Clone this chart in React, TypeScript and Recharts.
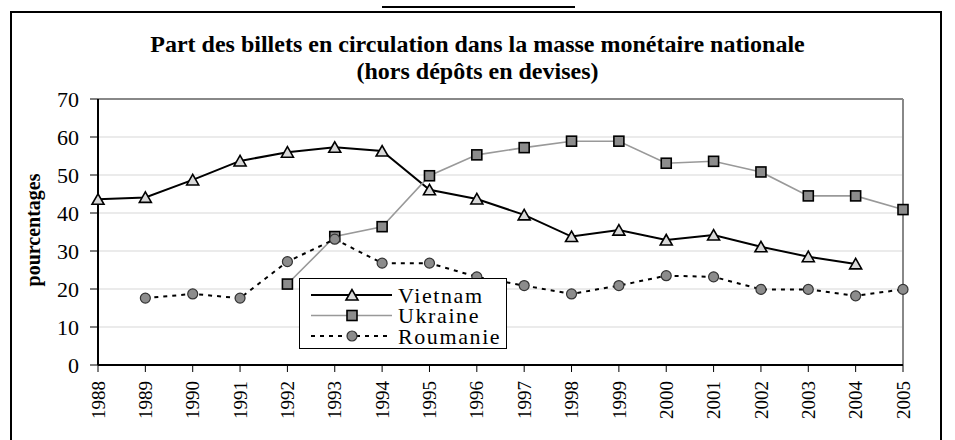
import React from 'react';
import { LineChart, Line, XAxis, YAxis, CartesianGrid, ReferenceLine } from 'recharts';

const years = ['1988', '1989', '1990', '1991', '1992', '1993', '1994', '1995', '1996', '1997', '1998', '1999', '2000', '2001', '2002', '2003', '2004', '2005'];
const vietnam = [43.6, 44.1, 48.7, 53.7, 56.0, 57.3, 56.3, 46.1, 43.7, 39.5, 33.8, 35.5, 32.9, 34.2, 31.1, 28.5, 26.6, null];
const ukraine = [null, null, null, null, 21.3, 33.8, 36.4, 49.8, 55.3, 57.2, 58.9, 58.9, 53.1, 53.6, 50.8, 44.5, 44.5, 40.9];
const roumanie = [null, 17.6, 18.7, 17.6, 27.2, 33.1, 26.8, 26.8, 23.2, 20.9, 18.7, 20.9, 23.5, 23.2, 19.9, 19.9, 18.2, 19.9];
const yTicks = [0, 10, 20, 30, 40, 50, 60, 70];
const seriesNames = ['Vietnam', 'Ukraine', 'Roumanie'];

const data = years.map((y, i) => ({ year: y, Vietnam: vietnam[i], Ukraine: ukraine[i], Roumanie: roumanie[i] }));

const FONT = '"Liberation Serif", "Times New Roman", serif';

const TriangleDot = (props: any) => {
  const { cx, cy, index } = props;
  if (cx == null || cy == null || props.value == null) return <g key={`t${index}`} />;
  const w = 6, h = 5.5;
  return (
    <polygon key={`t${index}`} points={`${cx},${cy - h} ${cx - w},${cy + h - 0.5} ${cx + w},${cy + h - 0.5}`}
      fill="#d9d9d9" stroke="#000" strokeWidth={1.6} strokeLinejoin="miter" />
  );
};

const SquareDot = (props: any) => {
  const { cx, cy, index } = props;
  if (cx == null || cy == null || props.value == null) return <g key={`s${index}`} />;
  const s = 5;
  return <rect key={`s${index}`} x={cx - s} y={cy - s} width={2 * s} height={2 * s} fill="#8c8c8c" stroke="#000" strokeWidth={1.6} />;
};

const CircleDot = (props: any) => {
  const { cx, cy, index } = props;
  if (cx == null || cy == null || props.value == null) return <g key={`c${index}`} />;
  return <circle key={`c${index}`} cx={cx} cy={cy} r={5} fill="#8c8c8c" stroke="#333" strokeWidth={1.2} />;
};

const XTick = (props: any) => {
  const { x, y, payload } = props;
  return (
    <text x={x} y={y} transform={`rotate(-90, ${x}, ${y})`} textAnchor="end" dy="0.35em"
      fontFamily={FONT} fontSize={19} fill="#000">
      {payload.value}
    </text>
  );
};

const LegendBox = () => {
  const styles = [
    { stroke: '#000', dash: undefined as string | undefined, marker: 'tri' },
    { stroke: '#999', dash: undefined as string | undefined, marker: 'sq' },
    { stroke: '#000', dash: '4 5', marker: 'ci' },
  ];
  return (
    <div style={{ position: 'absolute', left: 299, top: 278, width: 206, height: 69, border: '1px solid #000', background: '#fff' }}>
      <svg width={206} height={69} style={{ display: 'block' }}>
        {seriesNames.map((name, i) => {
          const it = styles[i];
          const cy = 16 + i * 20.5;
          return (
            <g key={name}>
              <line x1={11} x2={92} y1={cy} y2={cy} stroke={it.stroke} strokeWidth={it.marker === 'sq' ? 1.5 : 2} strokeDasharray={it.dash} />
              {it.marker === 'tri' && <polygon points={`52,${cy - 5.5} 46,${cy + 5} 58,${cy + 5}`} fill="#d9d9d9" stroke="#000" strokeWidth={1.6} />}
              {it.marker === 'sq' && <rect x={47} y={cy - 5} width={10} height={10} fill="#8c8c8c" stroke="#000" strokeWidth={1.6} />}
              {it.marker === 'ci' && <circle cx={52} cy={cy} r={5} fill="#8c8c8c" stroke="#333" strokeWidth={1.2} />}
              <text x={98} y={cy} dy="0.35em" fontFamily={FONT} fontSize={22} letterSpacing={1.6} fill="#000">{name}</text>
            </g>
          );
        })}
      </svg>
    </div>
  );
};

export default function App() {
  return (
    <div style={{ position: 'absolute', left: 0, top: 0, width: 955, height: 440, overflow: 'hidden', background: '#fff', fontFamily: FONT }}>
      <div style={{ position: 'absolute', left: 382, top: 6, width: 193, borderTop: '2px solid #000' }} />
      <div style={{ position: 'absolute', left: 10, top: 11, width: 928, height: 460, border: '2px solid #000' }} />
      <div style={{ position: 'absolute', left: 0, top: 31, width: 955, textAlign: 'center', fontWeight: 'bold', fontSize: 24, lineHeight: '27px', color: '#000' }}>
        <div>Part des billets en circulation dans la masse monétaire nationale</div>
        <div>(hors dépôts en devises)</div>
      </div>
      <div style={{ position: 'absolute', left: 33, top: 230, transform: 'translate(-50%, -50%) rotate(-90deg)', fontWeight: 'bold', fontSize: 20, whiteSpace: 'nowrap', color: '#000' }}>
        pourcentages
      </div>
      <div style={{ position: 'absolute', left: 0, top: 0 }}>
        <LineChart width={955} height={440} data={data} margin={{ top: 99, right: 52, bottom: 15, left: 38 }}>
          <CartesianGrid vertical={false} stroke="#e4e4e4" strokeWidth={1.5} />
          <ReferenceLine y={70} stroke="#888" strokeWidth={2} />
          <ReferenceLine x="2005" stroke="#888" strokeWidth={2} />
          <XAxis dataKey="year" height={60} interval={0} axisLine={{ stroke: '#000', strokeWidth: 2 }}
            tickLine={{ stroke: '#000', strokeWidth: 1 }} tickSize={7} tickMargin={9} tick={<XTick />} />
          <YAxis width={60} domain={[0, 70]} ticks={yTicks} interval={0} axisLine={{ stroke: '#000', strokeWidth: 2 }}
            tickLine={{ stroke: '#000', strokeWidth: 1 }} tickSize={8} tickMargin={11}
            tick={{ fill: '#000', fontSize: 22, fontFamily: FONT }} />
          <Line dataKey="Vietnam" stroke="#000" strokeWidth={2} dot={TriangleDot} isAnimationActive={false} activeDot={false} />
          <Line dataKey="Ukraine" stroke="#999" strokeWidth={1.6} dot={SquareDot} isAnimationActive={false} activeDot={false} />
          <Line dataKey="Roumanie" stroke="#000" strokeWidth={2} strokeDasharray="4 5" dot={CircleDot} isAnimationActive={false} activeDot={false} />
        </LineChart>
      </div>
      <LegendBox />
    </div>
  );
}
